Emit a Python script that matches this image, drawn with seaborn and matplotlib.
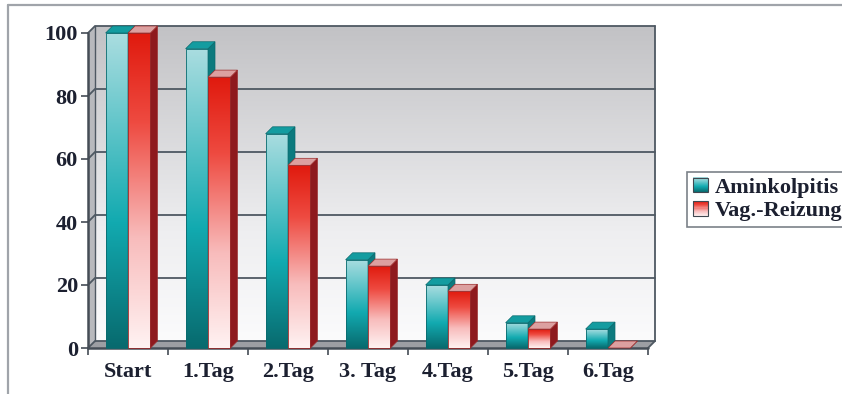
import numpy as np
import pandas as pd
import seaborn as sns
import matplotlib
matplotlib.use("Agg")
import matplotlib.pyplot as plt
from matplotlib.colors import LinearSegmentedColormap
from matplotlib.patches import Polygon, Rectangle
from matplotlib.lines import Line2D
from matplotlib.legend_handler import HandlerBase

# ---- data -------------------------------------------------------------
categories = ["Start", "1.Tag", "2.Tag", "3. Tag", "4.Tag", "5.Tag", "6.Tag"]
aminkolpitis = [100, 95, 68, 28, 20, 8, 6]
vag_reizung = [100, 86, 58, 26, 18, 6, 0]
series_names = ["Aminkolpitis", "Vag.-Reizung"]
y_ticks = [0, 20, 40, 60, 80, 100]

df = pd.DataFrame({
    "Tag": categories * 2,
    "Wert": aminkolpitis + vag_reizung,
    "Gruppe": [series_names[0]] * len(categories) + [series_names[1]] * len(categories),
})

# ---- style ------------------------------------------------------------
sns.set_theme(style="white")
plt.rcParams["font.family"] = ["Liberation Serif", "DejaVu Serif"]
plt.rcParams["font.weight"] = "bold"

TEXT = "#1c2030"
EDGE = "#454d56"
GRID = "#4e5862"

teal_cmap = LinearSegmentedColormap.from_list(
    "teal", [(0.0, "#086a6e"), (0.4, "#12aab0"), (0.75, "#6cc9cd"), (1.0, "#aadde0")])
red_cmap = LinearSegmentedColormap.from_list(
    "red", [(0.0, "#fff2f2"), (0.35, "#f8bcbc"), (0.72, "#ee4a40"), (1.0, "#e01a0e")])
wall_cmap = LinearSegmentedColormap.from_list(
    "wall", [(0.0, "#fbfbfc"), (0.35, "#eeeef0"), (1.0, "#c2c2c5")])

series_style = {
    series_names[0]: dict(cmap=teal_cmap, side="#0c7a7e", top="#139ca0", edge="#0a6a6e"),
    series_names[1]: dict(cmap=red_cmap, side="#8e1a1e", top="#dca0a0", edge="#9a2a2a"),
}

W, H, DPI = 842, 394, 100
fig = plt.figure(figsize=(W / DPI, H / DPI), dpi=DPI)
fig.patch.set_facecolor("white")
ax = fig.add_axes([88 / W, 1 - 348 / H, 560 / W, 315 / H])

sns.barplot(data=df, x="Tag", y="Wert", hue="Gruppe", order=categories,
            hue_order=series_names, width=0.56, saturation=1, linewidth=0,
            palette=["#12aab0", "#e8302a"], legend=False, ax=ax)

x0, x1 = -0.5, len(categories) - 0.5
ax.set_xlim(x0, x1)
ax.set_ylim(0, 100)
ax.set_autoscale_on(False)
for s in ax.spines.values():
    s.set_visible(False)
ax.set_facecolor("none")
ax.set_xlabel("")
ax.set_ylabel("")

# depth of the pseudo-3D view, converted from pixels to data units
depth_px = 7
origin = ax.transData.transform((0, 0))
dx, dy = ax.transData.inverted().transform(origin + depth_px)

# back wall with vertical grey gradient
grad = np.linspace(0, 1, 256).reshape(-1, 1)
ax.imshow(grad, cmap=wall_cmap, origin="lower", aspect="auto",
          extent=[x0 + dx, x1 + dx, dy, 100 + dy], zorder=0.1, clip_on=False)
# left side wall and floor
ax.add_patch(Polygon([(x0, 0), (x0, 100), (x0 + dx, 100 + dy), (x0 + dx, dy)],
                     closed=True, facecolor="#b8b9bd", edgecolor="none",
                     zorder=0.2, clip_on=False))
ax.add_patch(Polygon([(x0, 0), (x1, 0), (x1 + dx, dy), (x0 + dx, dy)],
                     closed=True, facecolor="#9c9ea3", edgecolor="none",
                     zorder=0.2, clip_on=False))
# grid lines running along side wall and back wall
for v in y_ticks:
    ax.plot([x0, x0 + dx, x1 + dx], [v, v + dy, v + dy], color=GRID, lw=1.3,
            zorder=0.5, clip_on=False, solid_joinstyle="miter")
ax.plot([x1 + dx, x1 + dx], [dy, 100 + dy], color=GRID, lw=1.3, zorder=0.5, clip_on=False)
ax.plot([x0 + dx, x0 + dx], [dy, 100 + dy], color=GRID, lw=1.0, zorder=0.5, clip_on=False)
ax.plot([x1, x1 + dx], [0, dy], color=GRID, lw=1.3, zorder=0.5, clip_on=False)

# front axis edges
ax.plot([x0, x0], [0, 100], color=EDGE, lw=1.8, zorder=1, clip_on=False)
ax.plot([x0, x1], [0, 0], color=EDGE, lw=1.8, zorder=1, clip_on=False)

# ---- 3D-looking bars built on the seaborn bar geometry -----------------
bars = []
for name, container in zip(series_names, ax.containers):
    for p in container.patches:
        bars.append((p.get_x(), name, p))
bars.sort(key=lambda b: b[0])

for i, (_, name, p) in enumerate(bars):
    st = series_style[name]
    x, w, h = p.get_x(), p.get_width(), p.get_height()
    p.set_visible(False)
    z = 2 + i * 0.1
    if h > 0:
        ax.imshow(grad, cmap=st["cmap"], origin="lower", aspect="auto",
                  extent=[x, x + w, 0, h], zorder=z, clip_on=False)
        ax.add_patch(Rectangle((x, 0), w, h, facecolor="none", edgecolor=st["edge"],
                               lw=0.6, zorder=z + 0.01, clip_on=False))
    ax.add_patch(Polygon([(x + w, 0), (x + w, h), (x + w + dx, h + dy), (x + w + dx, dy)],
                         closed=True, facecolor=st["side"], edgecolor=st["edge"],
                         lw=0.5, zorder=z + 0.02, clip_on=False))
    ax.add_patch(Polygon([(x, h), (x + w, h), (x + w + dx, h + dy), (x + dx, h + dy)],
                         closed=True, facecolor=st["top"], edgecolor=st["edge"],
                         lw=0.5, zorder=z + 0.03, clip_on=False))

# ---- ticks ------------------------------------------------------------
ax.set_yticks(y_ticks)
ax.set_yticklabels([str(v) for v in y_ticks])
ax.set_xticks(range(len(categories)))
ax.set_xticklabels(categories)
ax.set_xticks(np.arange(x0, x1 + 0.01, 1.0), minor=True)
ax.tick_params(axis="y", left=True, length=5, width=1.2, color=EDGE, pad=2.2,
               labelsize=16, labelcolor=TEXT)
ax.tick_params(axis="x", which="major", bottom=True, length=0, pad=10,
               labelsize=16, labelcolor=TEXT)
ax.tick_params(axis="x", which="minor", bottom=True, length=5, width=1.2, color=EDGE)
for lab in ax.get_xticklabels() + ax.get_yticklabels():
    lab.set_fontweight("bold")


# ---- legend with gradient swatches ------------------------------------
class GradientSwatch(HandlerBase):
    def __init__(self, cmap, edge):
        super().__init__()
        self.cmap = cmap
        self.edge = edge

    def create_artists(self, legend, orig_handle, xdescent, ydescent,
                       width, height, fontsize, trans):
        n = 14
        arts = []
        for k in range(n):
            arts.append(Rectangle((-xdescent, -ydescent + k * height / n), width, height / n + 0.3,
                                  facecolor=self.cmap((k + 0.5) / n), edgecolor="none",
                                  transform=trans))
        arts.append(Rectangle((-xdescent, -ydescent), width, height, facecolor="none",
                              edgecolor=self.edge, lw=0.8, transform=trans))
        return arts


handles = [Rectangle((0, 0), 1, 1) for _ in series_names]
handler_map = {
    handles[0]: GradientSwatch(teal_cmap, "#404850"),
    handles[1]: GradientSwatch(red_cmap, "#404850"),
}
leg = fig.legend(handles, series_names, handler_map=handler_map,
                 loc="upper left", bbox_to_anchor=(687 / W, 1 - 172 / H),
                 bbox_transform=fig.transFigure, frameon=True, fancybox=False,
                 borderaxespad=0, borderpad=0.25, labelspacing=0.15,
                 handlelength=0.7, handleheight=0.65, handletextpad=0.3,
                 prop={"family": ["Liberation Serif"], "weight": "bold", "size": 16})
leg.get_frame().set_edgecolor("#5a626b")
leg.get_frame().set_linewidth(1.2)
for t in leg.get_texts():
    t.set_color(TEXT)

# outer chart-area border (top and left edges visible)
fig.add_artist(Line2D([8 / W, 1.0], [1 - 5 / H, 1 - 5 / H], transform=fig.transFigure,
                      color="#a0a4aa", lw=1.6))
fig.add_artist(Line2D([8 / W, 8 / W], [0.0, 1 - 5 / H], transform=fig.transFigure,
                      color="#a0a4aa", lw=1.6))

fig.savefig("out.png", dpi=DPI, facecolor="white")
